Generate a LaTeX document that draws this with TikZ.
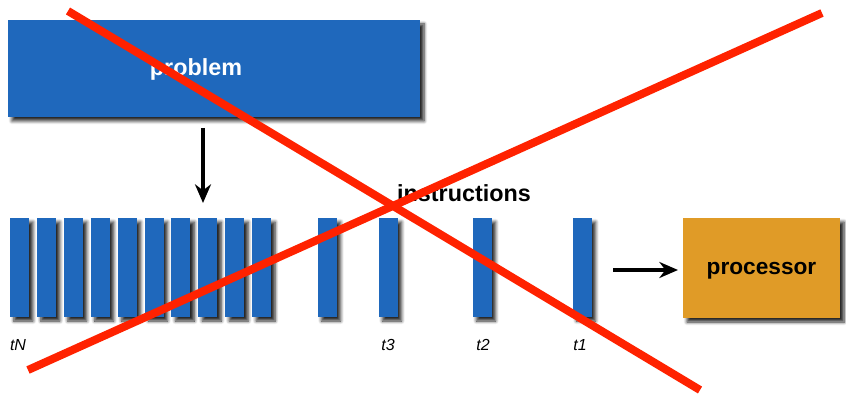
\documentclass[tikz,border=0pt]{standalone}
\usepackage{fontspec}
\setmainfont{Liberation Sans}
\usepackage{xcolor}
\usetikzlibrary{arrows.meta,shadows,shadows.blur,positioning}
\definecolor{taskblue}{HTML}{1F68BC}
\definecolor{cpuorange}{HTML}{E09B27}
\definecolor{crossred}{HTML}{FF2200}

\begin{document}
\begin{tikzpicture}[x = 0.75pt, y = -0.75pt,
  shade box/.style = {inner sep = 0pt, blur shadow = {shadow xshift = 3pt, shadow yshift = -3pt, shadow opacity = 85, shadow blur radius = 2.5pt, shadow blur steps = 6}},
  instr/.style = {shade box, fill = taskblue, minimum width = 14.25pt, minimum height = 74.25pt},
  tlabel/.style = {font = {\fontsize{12}{14}\selectfont\itshape}},
  flow/.style = {-{Stealth[length = 14pt, width = 12pt]}, line width = 2.5pt}]
\useasboundingbox (0,0) rectangle (846,395);

% the problem and the processor
\node[shade box, fill = taskblue, minimum width = 309pt, minimum height = 72.75pt] (problem) at (214,68.5) {};
\node[font = {\fontsize{17.5}{20}\selectfont\bfseries}, white] (problemlabel) at (196,69) {problem};
\node[shade box, fill = cpuorange, minimum width = 117.75pt, minimum height = 75pt, text depth = 0pt, font = {\fontsize{17}{20}\selectfont\bfseries}] (processor) at (761.5,268) {processor};

% queue of instructions
\foreach \i in {0,...,9}
  \node[instr] (bar\i) at (19.5 + 26.9*\i, 267.5) {};
\node[instr] (bar10) at (327,267.5) {};
\node[instr] (bar3) at (388,267.5) {};
\node[instr] (bar2) at (482,267.5) {};
\node[instr] (bar1) at (582,267.5) {};
\node[font = {\fontsize{17.5}{20}\selectfont\bfseries}] (instructions) at (464,193) {instructions};

\node[tlabel] (tN) at (18,345) {tN};
\node[tlabel] (t3) at (388,345) {t3};
\node[tlabel] (t2) at (483,345) {t2};
\node[tlabel] (t1) at (580,345) {t1};

% arrows
\coordinate (down top) at (203,128);
\coordinate (down tip) at (203,203);
\draw[flow] (down top) -- (down tip);
\coordinate (feed) at (613,270);
\coordinate (feed tip) at (678,270);
\draw[flow] (feed) -- (feed tip);

% crossed out
\draw[crossred, line width = 6pt] (68,11) -- (700,390);
\draw[crossred, line width = 6pt] (28,370) -- (822,13);
\end{tikzpicture}
\end{document}
